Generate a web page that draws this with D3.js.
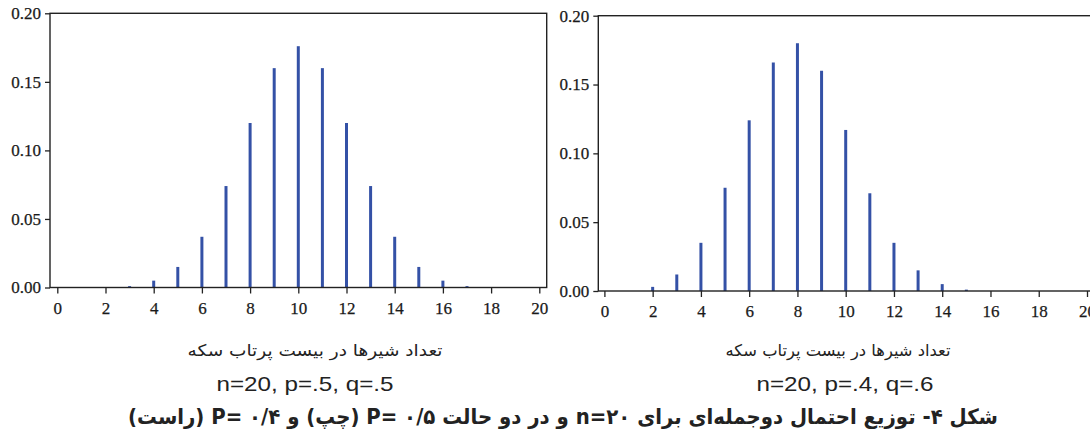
<!DOCTYPE html>
<html>
<head>
<meta charset="utf-8">
<script src="https://cdn.jsdelivr.net/npm/d3@7"></script>
<style>
  body { margin: 0; background: #fff; }
  .axis text { font-family: 'Liberation Serif', 'Times New Roman', serif; font-size: 17px; fill: #1a1a1a; stroke: #1a1a1a; stroke-width: 0.25; }
  .axis path { display: none; }
  .axis line { stroke: #222; stroke-width: 1.3; }
</style>
</head>
<body>
<div id="chart"></div>
<script>
// heads count (x) and binomial probabilities
const headsLeft = [3, 4, 5, 6, 7, 8, 9, 10, 11, 12, 13, 14, 15, 16, 17];
const probLeft = [0.001, 0.005, 0.015, 0.037, 0.074, 0.120, 0.160, 0.176, 0.160, 0.120, 0.074, 0.037, 0.015, 0.005, 0.001];

const headsRight = [2, 3, 4, 5, 6, 7, 8, 9, 10, 11, 12, 13, 14, 15];
const probRight = [0.003, 0.012, 0.035, 0.075, 0.124, 0.166, 0.180, 0.160, 0.117, 0.071, 0.035, 0.015, 0.005, 0.001];

const xTicks = [0, 2, 4, 6, 8, 10, 12, 14, 16, 18, 20];
const yTicks = [0, 0.05, 0.10, 0.15, 0.20];

const xTitle = 'تعداد شیرها در بیست پرتاب سکه';
const paramsLeft = 'n=20, p=.5, q=.5';
const paramsRight = 'n=20, p=.4, q=.6';
const caption = 'شکل ۴- توزیع احتمال دوجمله‌ای برای n=۲۰ و در دو حالت P= ۰/۵ (چپ) و P= ۰/۴ (راست)';

const w = 1090;
const h = 439;
const barColor = '#3451a6';

let svg = d3.select('#chart').append('svg')
            .attr('width', w)
            .attr('height', h);

const drawPanel = (heads, probs, box) => {
    let xScale = d3.scaleLinear().domain([0, 20]).range([box.x0, box.x20]);
    let yScale = d3.scaleLinear().domain([0, 0.2]).range([box.bottom, box.top]);

    let g = svg.append('g');

    // spikes
    g.selectAll('line.bar').data(heads).enter().append('line')
     .attr('class', 'bar')
     .attr('x1', (d) => xScale(d)).attr('x2', (d) => xScale(d))
     .attr('y1', yScale(0))
     .attr('y2', (d, i) => yScale(probs[i]))
     .attr('stroke', barColor)
     .attr('stroke-width', 3);

    // frame
    g.append('rect')
     .attr('x', box.left).attr('y', box.top)
     .attr('width', box.right - box.left).attr('height', box.bottom - box.top)
     .attr('fill', 'none').attr('stroke', '#222').attr('stroke-width', 1.4);

    let xAxis = d3.axisBottom(xScale).tickValues(xTicks).tickSize(6).tickPadding(8).tickFormat(d3.format('d'));
    let yAxis = d3.axisLeft(yScale).tickValues(yTicks).tickSize(5).tickPadding(4).tickFormat(d3.format('.2f'));

    g.append('g').attr('class', 'axis')
     .attr('transform', 'translate(0,' + box.bottom + ')')
     .call(xAxis);

    g.append('g').attr('class', 'axis')
     .attr('transform', 'translate(' + box.left + ',0)')
     .call(yAxis);
};

drawPanel(headsLeft, probLeft, {left: 50, right: 546.7, x0: 57.3, x20: 539.3, top: 13.3, bottom: 287.5});
drawPanel(headsRight, probRight, {left: 598.3, right: 1094, x0: 604.4, x20: 1087, top: 15.7, bottom: 291});

// titles under each panel
const addRtl = (txt, cx, cy, size, len, weight) => {
    svg.append('text')
       .attr('x', cx).attr('y', cy)
       .attr('direction', 'rtl')
       .attr('text-anchor', 'middle')
       .attr('dominant-baseline', 'central')
       .attr('font-family', "'DejaVu Sans', 'Noto Sans', sans-serif")
       .attr('font-size', size)
       .attr('font-weight', weight)
       .attr('fill', '#222')
       .attr('textLength', len)
       .attr('lengthAdjust', 'spacingAndGlyphs')
       .text(txt);
};

addRtl(xTitle, 315, 350, 16, 255, 'normal');
addRtl(xTitle, 838, 350, 16, 225, 'normal');

[[paramsLeft, 305], [paramsRight, 845]].forEach(p => {
    svg.append('text')
       .attr('x', p[1]).attr('y', 383)
       .attr('text-anchor', 'middle')
       .attr('dominant-baseline', 'central')
       .attr('font-family', "'Liberation Sans Narrow', 'Liberation Sans', Arial, sans-serif")
       .attr('font-size', 21)
       .attr('fill', '#222')
       .attr('textLength', 177)
       .attr('lengthAdjust', 'spacingAndGlyphs')
       .text(p[0]);
});

addRtl(caption, 563, 417, 21, 870, 'bold');
</script>
</body>
</html>
